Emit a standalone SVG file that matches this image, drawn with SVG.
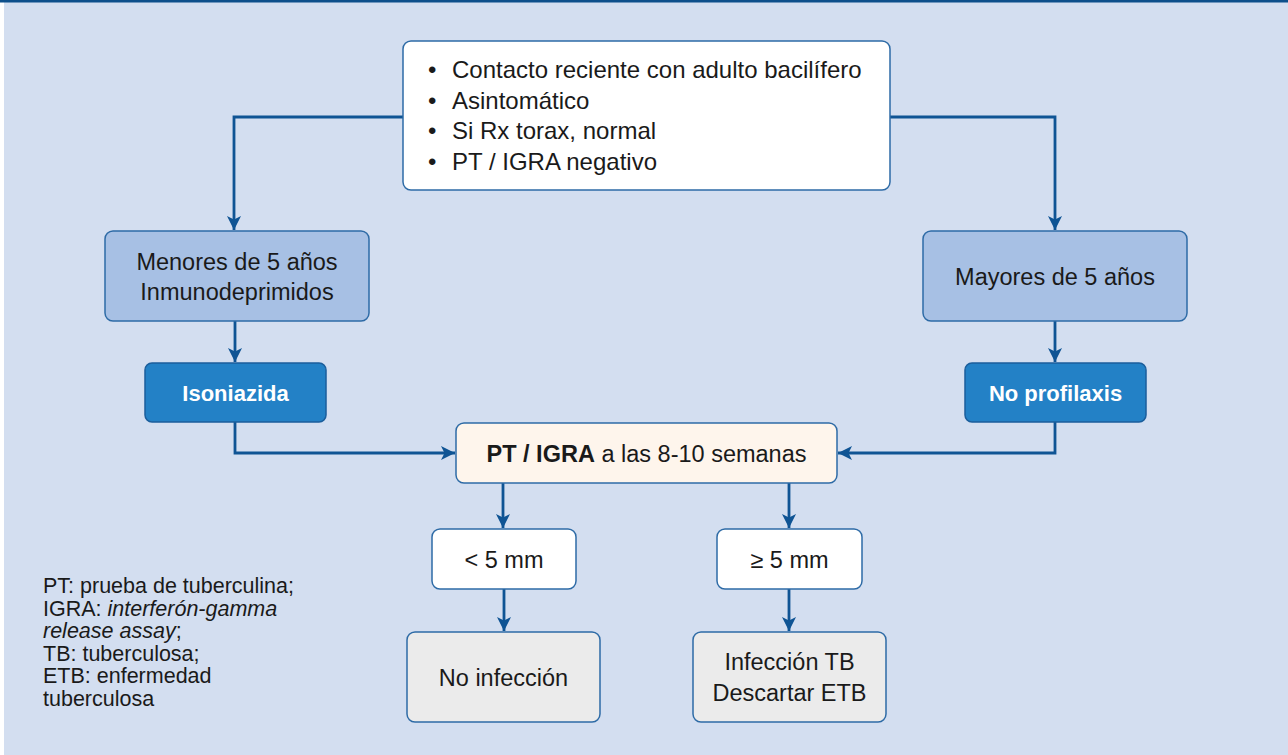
<svg xmlns="http://www.w3.org/2000/svg" width="1288" height="755" viewBox="0 0 1288 755">
  <style>
    .t { font-family: "Liberation Sans", Arial, sans-serif; font-size: 23.5px; fill: #1a1a1a; }
    .tb { font-size: 24px; }
    .c { text-anchor: middle; }
    .b { font-weight: bold; font-size: 22px; fill: #ffffff; }
    .lg { font-family: "Liberation Sans", Arial, sans-serif; font-size: 21.5px; fill: #1a1a1a; }
    .box { stroke: #2E6BA6; stroke-width: 1.5; }
    .white { fill: #ffffff; }
    .light { fill: #A7C0E4; }
    .dark { fill: #2381C6; stroke: #1B5E9C; }
    .cream { fill: #FEF5EC; }
    .gray { fill: #EBEBEB; }
    .conn { fill: none; stroke: #0F5494; stroke-width: 2.8; }
  </style>
  <defs>
    <marker id="arr" markerUnits="userSpaceOnUse" markerWidth="16" markerHeight="16" refX="14" refY="7" orient="auto">
      <path d="M0,0 L14,7 L0,14 L3.5,7 z" fill="#0F5494"/>
    </marker>
  </defs>

  <rect x="0" y="0" width="1288" height="755" fill="#ffffff"/>
  <rect x="4" y="2" width="1284" height="753" fill="#D3DEF0"/>
  <rect x="0" y="0" width="1288" height="2.5" fill="#0D4F8B"/>

  <g id="connectors">
    <path class="conn" d="M403,117 H234 V230" marker-end="url(#arr)"/>
    <path class="conn" d="M890,117 H1055 V230" marker-end="url(#arr)"/>
    <path class="conn" d="M235,321 V362" marker-end="url(#arr)"/>
    <path class="conn" d="M1055,321 V362" marker-end="url(#arr)"/>
    <path class="conn" d="M235,422 V453 H455" marker-end="url(#arr)"/>
    <path class="conn" d="M1055,422 V453 H838" marker-end="url(#arr)"/>
    <path class="conn" d="M503,483 V528" marker-end="url(#arr)"/>
    <path class="conn" d="M789,483 V528" marker-end="url(#arr)"/>
    <path class="conn" d="M504,589 V631" marker-end="url(#arr)"/>
    <path class="conn" d="M789,589 V631" marker-end="url(#arr)"/>
  </g>

  <g id="criteria">
    <rect class="box white" x="403" y="41" width="487" height="149" rx="8"/>
    <text class="t tb" x="428" y="78">•</text>
    <text class="t tb" x="452" y="78">Contacto reciente con adulto bacilífero</text>
    <text class="t tb" x="428" y="108.5">•</text>
    <text class="t tb" x="452" y="108.5">Asintomático</text>
    <text class="t tb" x="428" y="139">•</text>
    <text class="t tb" x="452" y="139">Si Rx torax, normal</text>
    <text class="t tb" x="428" y="169.5">•</text>
    <text class="t tb" x="452" y="169.5">PT / IGRA negativo</text>
  </g>

  <g id="menores">
    <rect class="box light" x="105" y="231" width="264" height="90" rx="8"/>
    <text class="t c" x="237" y="270">Menores de 5 años</text>
    <text class="t c" x="237" y="300">Inmunodeprimidos</text>
  </g>

  <g id="mayores">
    <rect class="box light" x="923" y="231" width="264" height="90" rx="8"/>
    <text class="t c" x="1055" y="285">Mayores de 5 años</text>
  </g>

  <g id="isoniazida">
    <rect class="box dark" x="145" y="363" width="181" height="59" rx="7"/>
    <text class="t c b" x="235.5" y="401">Isoniazida</text>
  </g>

  <g id="noprofilaxis">
    <rect class="box dark" x="965" y="363" width="181" height="59" rx="7"/>
    <text class="t c b" x="1055.5" y="401">No profilaxis</text>
  </g>

  <g id="ptigra">
    <rect class="box cream" x="456" y="423" width="381" height="60" rx="8"/>
    <text class="t c" x="646.5" y="462"><tspan font-weight="bold">PT / IGRA</tspan> a las 8-10 semanas</text>
  </g>

  <g id="menos5">
    <rect class="box white" x="432" y="529" width="144" height="60" rx="8"/>
    <text class="t c" x="504" y="568">&lt; 5 mm</text>
  </g>

  <g id="mas5">
    <rect class="box white" x="717" y="529" width="145" height="60" rx="8"/>
    <text class="t c" x="789.5" y="568">≥ 5 mm</text>
  </g>

  <g id="noinfeccion">
    <rect class="box gray" x="407" y="632" width="193" height="90" rx="8"/>
    <text class="t c" x="503.5" y="686">No infección</text>
  </g>

  <g id="infecciontb">
    <rect class="box gray" x="693" y="632" width="193" height="90" rx="8"/>
    <text class="t c" x="789.5" y="670">Infección TB</text>
    <text class="t c" x="789.5" y="701">Descartar ETB</text>
  </g>

  <g id="legend">
    <text class="lg" x="43" y="593">PT: prueba de tuberculina;</text>
    <text class="lg" x="43" y="615.5">IGRA: <tspan font-style="italic">interferón-gamma</tspan></text>
    <text class="lg" x="43" y="638"><tspan font-style="italic">release assay</tspan>;</text>
    <text class="lg" x="43" y="660.5">TB: tuberculosa;</text>
    <text class="lg" x="43" y="683">ETB: enfermedad</text>
    <text class="lg" x="43" y="705.5">tuberculosa</text>
  </g>
</svg>
